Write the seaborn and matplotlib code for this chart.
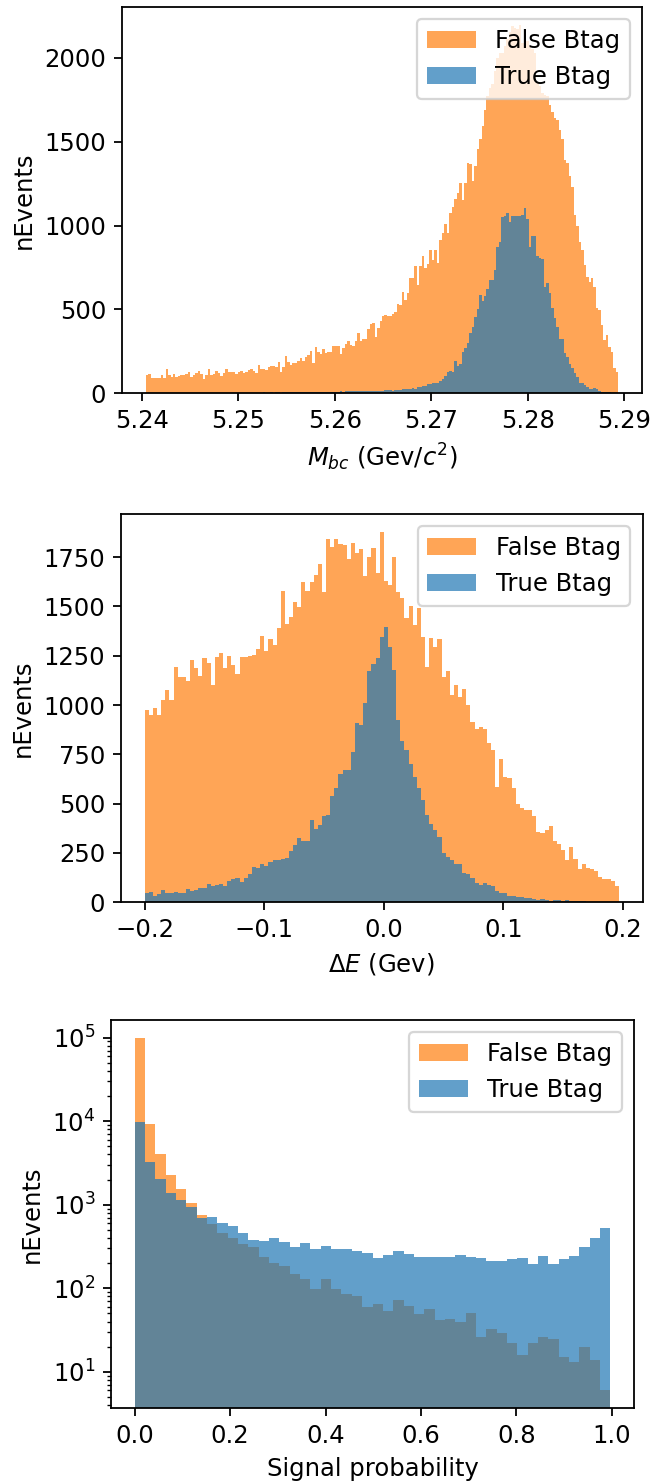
import numpy as np
import pandas as pd
import matplotlib
matplotlib.use("Agg")
import matplotlib.pyplot as plt
from matplotlib.ticker import MultipleLocator
import seaborn as sns

# ---------------- data ----------------
labels = ["False Btag", "True Btag"]

# Panel 1: M_bc histogram (190 bins)
mbc_range = (5.2404, 5.2894)
mbc_false = [
    109, 115, 90, 90, 90, 94, 109, 90, 143, 109,
    95, 115, 99, 105, 107, 111, 115, 127, 95, 109,
    119, 133, 115, 83, 109, 147, 109, 115, 133, 119,
    103, 119, 147, 127, 125, 125, 115, 129, 133, 123,
    125, 139, 145, 135, 123, 171, 147, 143, 139, 159,
    165, 163, 155, 185, 125, 159, 223, 189, 169, 179,
    179, 195, 209, 195, 219, 231, 253, 183, 275, 249,
    235, 263, 239, 249, 249, 283, 283, 279, 235, 269,
    294, 314, 289, 283, 314, 358, 314, 322, 322, 382,
    414, 422, 338, 388, 428, 462, 468, 458, 462, 474,
    482, 533, 527, 601, 557, 597, 687, 687, 756, 647,
    756, 820, 746, 772, 856, 796, 856, 776, 911, 955,
    1011, 955, 1075, 1110, 1158, 1194, 1254, 1154, 1254, 1373,
    1369, 1263, 1355, 1455, 1515, 1596, 1690, 1771, 1821, 1841,
    1920, 2000, 2030, 2030, 2070, 2109, 2151, 2189, 2180, 2169,
    2193, 2091, 2121, 2100, 2069, 2054, 2030, 1851, 1830, 1790,
    1781, 1775, 1721, 1675, 1642, 1627, 1572, 1516, 1393, 1373,
    1293, 1230, 1064, 995, 899, 856, 766, 696, 666, 686,
    636, 511, 497, 408, 318, 348, 278, 248, 149, 129,
]
mbc_true = [
    1, 0, 1, 1, 0, 1, 1, 1, 0, 1,
    1, 1, 1, 2, 1, 1, 1, 2, 1, 1,
    2, 1, 2, 2, 1, 2, 2, 2, 2, 3,
    2, 3, 2, 3, 3, 3, 2, 3, 4, 3,
    3, 4, 3, 4, 4, 3, 4, 5, 4, 4,
    5, 4, 5, 5, 4, 5, 6, 5, 5, 6,
    5, 6, 5, 6, 6, 7, 6, 7, 6, 7,
    8, 7, 8, 8, 9, 9, 10, 9, 11, 10,
    12, 11, 12, 13, 12, 14, 15, 14, 13, 12,
    14, 13, 15, 16, 15, 14, 22, 21, 17, 16,
    18, 20, 21, 24, 25, 27, 26, 30, 27, 36,
    37, 45, 46, 56, 55, 60, 61, 64, 74, 84,
    103, 125, 130, 129, 195, 163, 175, 249, 269, 299,
    362, 394, 452, 502, 587, 553, 581, 621, 676, 676,
    736, 875, 899, 1051, 1054, 1075, 1019, 1058, 1058, 1058,
    1058, 1064, 1104, 1039, 875, 935, 939, 816, 806, 800,
    634, 657, 597, 507, 448, 398, 322, 322, 242, 215,
    175, 149, 119, 95, 63, 60, 48, 40, 28, 24,
    30, 24, 16, 10, 8, 6, 5, 3, 2, 1,
]

# Panel 2: Delta E histogram (115 bins)
de_range = (-0.2, 0.1966)
de_false = [
    976, 952, 986, 952, 1028, 1077, 1028, 1195, 1141, 1141,
    1124, 1226, 1187, 1148, 1239, 1212, 1103, 1244, 1266, 1187,
    1251, 1205, 1155, 1242, 1242, 1248, 1253, 1285, 1350, 1273,
    1333, 1307, 1391, 1576, 1413, 1448, 1524, 1499, 1624, 1576,
    1622, 1661, 1715, 1571, 1841, 1799, 1841, 1816, 1812, 1740,
    1824, 1770, 1791, 1656, 1752, 1796, 1672, 1875, 1627, 1610,
    1753, 1575, 1543, 1442, 1504, 1408, 1492, 1347, 1195, 1340,
    1296, 1335, 1141, 1171, 1052, 1103, 1043, 1082, 998, 913,
    880, 888, 880, 807, 774, 585, 728, 635, 632, 577,
    497, 480, 470, 470, 437, 357, 352, 366, 386, 312,
    298, 265, 214, 278, 222, 167, 194, 172, 167, 160,
    126, 118, 118, 109, 82,
]
de_true = [
    49, 54, 32, 42, 62, 49, 49, 54, 49, 45,
    67, 57, 62, 71, 72, 91, 82, 87, 94, 85,
    109, 116, 121, 103, 124, 143, 180, 172, 194, 185,
    205, 214, 217, 222, 226, 259, 290, 324, 310, 312,
    416, 374, 391, 438, 442, 538, 577, 649, 673, 673,
    762, 908, 900, 1010, 1171, 1209, 1239, 1343, 1398, 1293,
    1180, 926, 817, 770, 703, 635, 582, 521, 442, 396,
    369, 329, 248, 228, 217, 194, 194, 147, 143, 121,
    96, 87, 96, 87, 82, 59, 45, 49, 32, 32,
    28, 25, 24, 20, 17, 12, 17, 10, 8, 12,
    10, 7, 10, 8, 7, 5, 5, 4, 4, 4,
    3, 3, 3, 2, 2,
]

# Panel 3: signal probability histogram (46 bins, log scale)
sp_range = (0.0, 0.997)
sp_false = [
    100000, 9300, 4090, 2260, 1525, 1057, 754, 589, 456, 402,
    340, 311, 238, 202, 186, 150, 130, 98, 129, 98,
    85, 80, 60, 64, 53, 72, 62, 49, 56, 42,
    43, 39, 51, 26, 33, 29, 22, 16, 22, 26,
    25, 15, 13, 20, 14, 6,
]
sp_true = [
    9730, 3250, 2040, 1400, 1137, 946, 700, 706, 606, 562,
    456, 377, 366, 405, 360, 316, 350, 294, 319, 294,
    294, 283, 268, 230, 252, 278, 257, 237, 235, 235,
    235, 249, 237, 228, 212, 212, 226, 230, 195, 245,
    197, 226, 243, 308, 402, 532,
]

x_labels = [r"$M_{bc}$ (Gev/$c^2$)", r"$\Delta E$ (Gev)", "Signal probability"]
y_label = "nEvents"
y_steps = [500, 250, None]

# ---------------- figure ----------------
W, H, DPI = 650, 1483, 162
plt.rcParams["font.family"] = ["DejaVu Sans"]
plt.rcParams["font.size"] = 10.8
fig = plt.figure(figsize=(W / DPI, H / DPI), dpi=DPI)

colors = ["#ff7f0e", "#1f77b4"]


def panel(rect_px, rng, series, xlabel, ystep=None, log=False):
    l, t, r, b = rect_px
    ax = fig.add_axes([l / W, 1 - b / H, (r - l) / W, (b - t) / H])
    n = len(series[0])
    edges = np.linspace(rng[0], rng[1], n + 1)
    centers = 0.5 * (edges[:-1] + edges[1:])
    for vals, lab, col in zip(series, labels, colors):
        df = pd.DataFrame({"x": centers, "w": np.asarray(vals, float)})
        sns.histplot(data=df, x="x", weights="w", bins=n, binrange=rng,
                     color=col, alpha=0.7, linewidth=0, edgecolor="none",
                     label=lab, ax=ax)
    if log:
        ax.set_yscale("log")
    if ystep:
        ax.yaxis.set_major_locator(MultipleLocator(ystep))
    ax.set_xlabel(xlabel)
    ax.set_ylabel(y_label)
    ax.legend(loc="upper right")
    return ax


panel((122, 7, 642, 393.3), mbc_range, [mbc_false, mbc_true], x_labels[0], y_steps[0])
panel((121, 514, 642.5, 902.3), de_range, [de_false, de_true], x_labels[1], y_steps[1])
panel((111, 1020, 634, 1408), sp_range, [sp_false, sp_true], x_labels[2], y_steps[2], log=True)

fig.savefig("out.png", dpi=DPI)
